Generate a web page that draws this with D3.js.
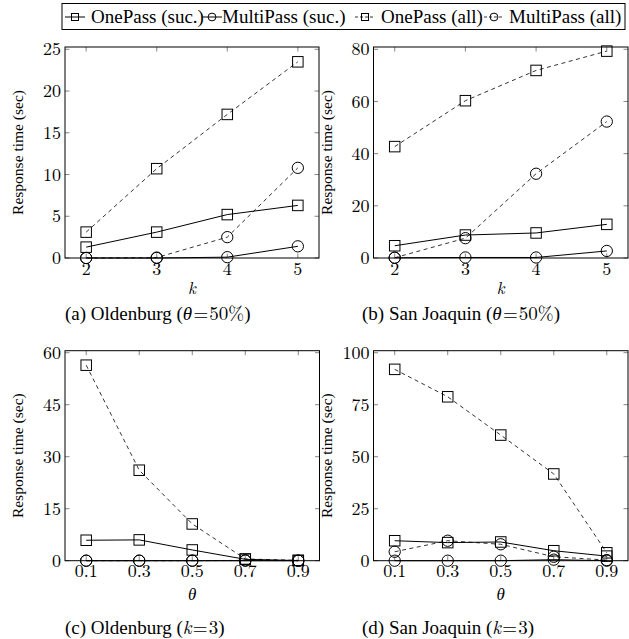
<!DOCTYPE html>
<html><head><meta charset="utf-8">
<script src="https://cdn.jsdelivr.net/npm/d3@7"></script>
<style>body{margin:0;background:#fff}svg{display:block}</style>
</head><body>
<svg id="c" width="629" height="639"></svg>
<script>
// ---- data ----
const kCats = [2, 3, 4, 5];
const thetaCats = [0.1, 0.3, 0.5, 0.7, 0.9];
const seriesNames = ["OnePass (suc.)", "MultiPass (suc.)", "OnePass (all)", "MultiPass (all)"];

const oldK_onePassSuc   = [1.3, 3.1, 5.2, 6.3];
const oldK_multiPassSuc = [0, 0, 0.1, 1.4];
const oldK_onePassAll   = [3.1, 10.7, 17.2, 23.5];
const oldK_multiPassAll = [0, 0.05, 2.5, 10.8];

const sjK_onePassSuc   = [4.7, 8.8, 9.6, 12.9];
const sjK_multiPassSuc = [0.1, 0.2, 0.2, 2.7];
const sjK_onePassAll   = [42.7, 60.3, 71.9, 79.3];
const sjK_multiPassAll = [0.1, 7.6, 32.3, 52.3];

const oldT_onePassSuc   = [5.9, 6.0, 3.1, 0.4, 0.05];
const oldT_multiPassSuc = [0, 0, 0, 0, 0];
const oldT_onePassAll   = [56.4, 26.1, 10.6, 0.5, 0.1];
const oldT_multiPassAll = [0, 0, 0, 0.1, 0];

const sjT_onePassSuc   = [9.6, 8.7, 9.0, 4.8, 2.2];
const sjT_multiPassSuc = [0, 0, 0, 0.5, 0];
const sjT_onePassAll   = [92, 78.8, 60.4, 41.7, 3.8];
const sjT_multiPassAll = [4.3, 9.6, 7.9, 1.9, 0.3];

const yTicksOldK = [0, 5, 10, 15, 20, 25];
const yTicksSjK  = [0, 20, 40, 60, 80];
const yTicksOldT = [0, 15, 30, 45, 60];
const yTicksSjT  = [0, 25, 50, 75, 100];
const thetaTickLabels = ["0.1", "0.3", "0.5", "0.7", "0.9"];

// ---- drawing ----
const svg = d3.select("#c");
const TIMES = "Liberation Serif";
const CM = "Latin Modern Roman";
const styles = [
  {marker: "square", dash: null},
  {marker: "circle", dash: null},
  {marker: "square", dash: "4,3.5"},
  {marker: "circle", dash: "4,3.5"}
];

function drawMarker(g, type, x, y, s) {
  if (type === "square") {
    g.append("rect").attr("x", x - s/2).attr("y", y - s/2).attr("width", s).attr("height", s)
      .attr("fill", "none").attr("stroke", "#000").attr("stroke-width", 1);
  } else {
    g.append("circle").attr("cx", x).attr("cy", y).attr("r", s/2 + 0.4)
      .attr("fill", "none").attr("stroke", "#000").attr("stroke-width", 1);
  }
}

function panel(cfg) {
  const x = d3.scaleLinear().domain(cfg.xDomain).range([cfg.left, cfg.right]);
  const y = d3.scaleLinear().domain([0, cfg.yTicks[cfg.yTicks.length - 1]]).range([cfg.bottom, cfg.topTick]);
  const g = svg.append("g");

  const tickLen = 4.5;
  const tg = g.append("g").attr("stroke", "#666").attr("stroke-width", 0.8);
  cfg.xCats.forEach(v => {
    tg.append("line").attr("x1", x(v)).attr("x2", x(v)).attr("y1", cfg.bottom).attr("y2", cfg.bottom - tickLen);
    tg.append("line").attr("x1", x(v)).attr("x2", x(v)).attr("y1", cfg.top).attr("y2", cfg.top + tickLen);
  });
  cfg.yTicks.forEach(v => {
    tg.append("line").attr("x1", cfg.left).attr("x2", cfg.left + tickLen).attr("y1", y(v)).attr("y2", y(v));
    tg.append("line").attr("x1", cfg.right).attr("x2", cfg.right - tickLen).attr("y1", y(v)).attr("y2", y(v));
  });

  g.append("rect").attr("x", cfg.left).attr("y", cfg.top)
    .attr("width", cfg.right - cfg.left).attr("height", cfg.bottom - cfg.top)
    .attr("fill", "none").attr("stroke", "#000").attr("stroke-width", 1);

  cfg.yTicks.forEach(v => {
    g.append("text").attr("x", cfg.left - 4).attr("y", y(v)).attr("dy", "0.34em")
      .attr("text-anchor", "end").attr("font-size", 18).style("font-family", CM).text(v);
  });
  cfg.xCats.forEach((v, i) => {
    g.append("text").attr("x", x(v)).attr("y", cfg.bottom + 16.5)
      .attr("text-anchor", "middle").attr("font-size", 18).style("font-family", CM).text(cfg.xLabels[i]);
  });

  g.append("text").attr("x", (cfg.left + cfg.right) / 2).attr("y", cfg.xLabelY)
    .attr("text-anchor", "middle").attr("font-style", "italic")
    .attr("font-size", 17).style("font-family", CM).text(cfg.xTitle);
  g.append("text").attr("transform", `translate(${cfg.left - 42},${(cfg.top + cfg.bottom) / 2}) rotate(-90)`)
    .attr("text-anchor", "middle").attr("font-size", 15.5).style("font-family", TIMES).text("Response time (sec)");

  cfg.series.forEach((vals, si) => {
    const st = styles[si];
    const line = d3.line().x((d, i) => x(cfg.xCats[i])).y(d => y(d));
    g.append("path").datum(vals).attr("d", line).attr("fill", "none")
      .attr("stroke", "#000").attr("stroke-width", st.dash ? 0.8 : 1)
      .attr("stroke-dasharray", st.dash);
    vals.forEach((v, i) => drawMarker(g, st.marker, x(cfg.xCats[i]), y(v), 10.5));
  });

  const cap = g.append("text").attr("x", cfg.capX).attr("y", cfg.capY).attr("font-size", 19)
    .style("font-family", TIMES);
  cap.append("tspan").text(cfg.caption[0]);
  cap.append("tspan").style("font-family", CM).attr("font-style", "italic").text(cfg.caption[1]);
  cap.append("tspan").style("font-family", CM).text(cfg.caption[2]);
  cap.append("tspan").text(")");
}

panel({left: 65, right: 319, top: 47, topTick: 49.3, bottom: 258,
  xDomain: [1.7, 5.3], xCats: kCats, xLabels: kCats, yTicks: yTicksOldK, xTitle: "k", xLabelY: 293.5,
  series: [oldK_onePassSuc, oldK_multiPassSuc, oldK_onePassAll, oldK_multiPassAll],
  caption: ["(a) Oldenburg (", "θ", "\u200a=\u200a50%"], capX: 65, capY: 319.5});
panel({left: 373.5, right: 628, top: 47, topTick: 49.3, bottom: 258,
  xDomain: [1.7, 5.3], xCats: kCats, xLabels: kCats, yTicks: yTicksSjK, xTitle: "k", xLabelY: 293.5,
  series: [sjK_onePassSuc, sjK_multiPassSuc, sjK_onePassAll, sjK_multiPassAll],
  caption: ["(b) San Joaquin (", "θ", "\u200a=\u200a50%"], capX: 362, capY: 319.5});
panel({left: 65, right: 319.5, top: 350.7, topTick: 352.7, bottom: 560.7,
  xDomain: [0.02, 0.98], xCats: thetaCats, xLabels: thetaTickLabels, yTicks: yTicksOldT, xTitle: "θ", xLabelY: 600,
  series: [oldT_onePassSuc, oldT_multiPassSuc, oldT_onePassAll, oldT_multiPassAll],
  caption: ["(c) Oldenburg (", "k", "\u200a=\u200a3"], capX: 65, capY: 634});
panel({left: 373.5, right: 628, top: 350.7, topTick: 352.7, bottom: 560.7,
  xDomain: [0.02, 0.98], xCats: thetaCats, xLabels: thetaTickLabels, yTicks: yTicksSjT, xTitle: "θ", xLabelY: 600,
  series: [sjT_onePassSuc, sjT_multiPassSuc, sjT_onePassAll, sjT_multiPassAll],
  caption: ["(d) San Joaquin (", "k", "\u200a=\u200a3"], capX: 362, capY: 634});

// legend
const lg = svg.append("g");
lg.append("rect").attr("x", 62).attr("y", 3.5).attr("width", 563).attr("height", 26)
  .attr("fill", "#fff").attr("stroke", "#000").attr("stroke-width", 1);
const legendX = [75, 212, 365, 494];
const legendTextX = [91, 222, 381, 509];
seriesNames.forEach((name, i) => {
  const st = styles[i];
  const cx = legendX[i], cy = 17;
  lg.append("line").attr("x1", cx - 10).attr("x2", cx + 10).attr("y1", cy).attr("y2", cy)
    .attr("stroke", "#000").attr("stroke-width", st.dash ? 0.8 : 1)
    .attr("stroke-dasharray", st.dash ? "3,2" : null);
  drawMarker(lg, st.marker, cx, cy, 7);
  lg.append("text").attr("x", legendTextX[i]).attr("y", 23).attr("font-size", 19)
    .style("font-family", TIMES).text(name);
});
</script>
</body></html>
